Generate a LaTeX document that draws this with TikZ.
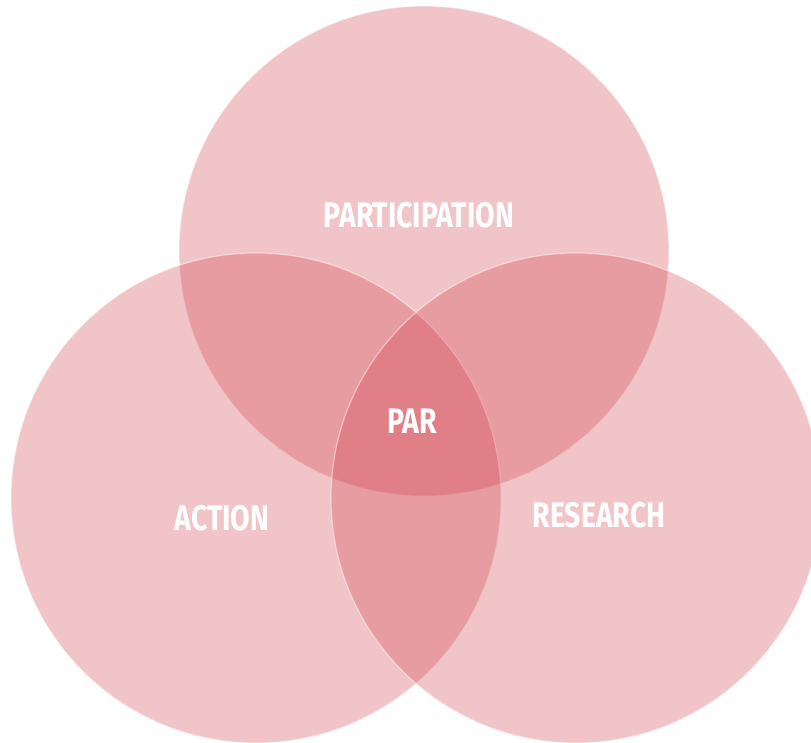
\documentclass[tikz,border=0pt]{standalone}
\usepackage{fontspec}
\setmainfont{Fira Sans}
\newfontfamily\labelfont[FakeStretch=0.8]{Fira Sans Bold}
\definecolor{venn}{RGB}{208,62,72}
\begin{document}
\begin{tikzpicture}[x=1pt,y=-1pt,
  setcircle/.style={circle,minimum size=490pt,inner sep=0pt,fill=venn,fill opacity=0.3,draw=white,draw opacity=0.45,line width=1.2pt},
  setlabel/.style={text=white,font=\labelfont\fontsize{35.5}{35.5}\selectfont,inner sep=0pt}]
\useasboundingbox (0,0) rectangle (811,743);
\node[setcircle] (top) at (424,251) {};
\node[setcircle] (left) at (256,498) {};
\node[setcircle] (right) at (576,498) {};
\node[setlabel] (lp) at (419,215) {PARTICIPATION};
\node[setlabel] (lpar) at (412,421) {PAR};
\node[setlabel] (la) at (222,518) {ACTION};
\node[setlabel] (lr) at (599,515) {RESEARCH};
\end{tikzpicture}
\end{document}
